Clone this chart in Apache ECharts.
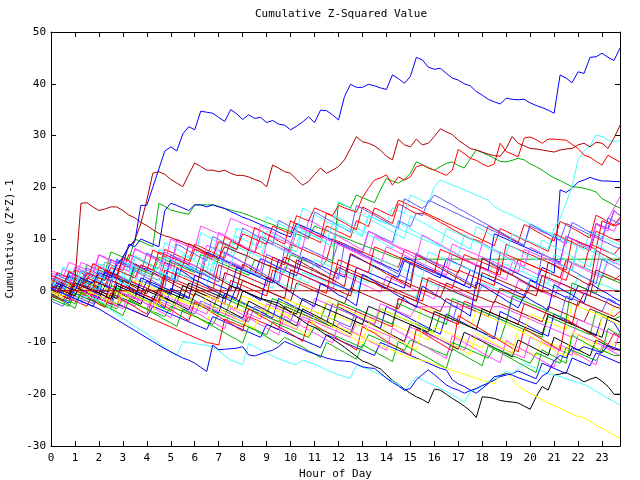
<!DOCTYPE html>
<html><head><meta charset="utf-8">
<script src="https://cdn.jsdelivr.net/npm/echarts@6/dist/echarts.min.js"></script>
<style>html,body{margin:0;padding:0;background:#fff}#c{width:640px;height:480px}</style>
</head><body><div id="c"></div>
<script>
const hours = Array.from({length:96},(_,i)=>i/4);
const xTickLabels = ['0','1','2','3','4','5','6','7','8','9','10','11','12','13','14','15','16','17','18','19','20','21','22','23'];
const yTickLabels = ['-30','-20','-10','0','10','20','30','40','50'];

const C_RED='#ff0000', C_DRED='#b00000', C_GRN='#00b000', C_BLU='#0000ff', C_SLB='#5a5aff', C_MAG='#ff44ff', C_CYN='#44ffff', C_YEL='#ffff00', C_BLK='#000000';

const topBlue = [0,1.5,1,0.5,0,2.5,2,1.5, 3.5,3,2.5,5,6.5,8.5,9.5,16.5, 16.5,20,23.5,27,27.8,27,30.3,31.7, 31.1,34.7,34.5,34.3,33.5,32.7,35,34.2, 33.1,34,33.3,33.5,32.5,32.9,32.2,32, 31.1,31.8,32.6,33.6,32.5,34.9,34.8,34, 33,37.5,39.9,39.3,39.3,39.9,39.6,39.2, 38.9,41.7,41,40.1,41.4,45.1,44.6,43.2, 42.8,43,42,41.1,40.7,40,39.6,38.5, 37.8,37,36.5,36.1,37.2,37,36.9,37, 36.3,35.8,35.4,34.9,34.3,41.7,41.1,40.2, 42.3,42,45.1,45.2,45.9,45.1,44.5,46.9];
const darkRedHigh = [1,0.5,0,-0.5,1.5,1,0.5,2, 1.5,1,3.5,3,6.5,8.5,9.8,13, 17.5,22.7,23,22.5,21.5,20.8,20.1,22.5, 24.7,24,23.3,23.3,23,23.3,22.7,22.3, 22.3,22,21.5,21.1,20.1,24.3,23.7,23, 22.7,21.5,20.4,21.1,22.5,23.7,22.7,23.3, 24,25.3,27.5,29.8,28.8,28.5,28,27.2, 26,25.3,29.3,28.2,27.8,29.3,28.2,28.5, 29.8,31.3,30.7,30.2,29.1,28.3,27.5,27.2, 26.8,26.4,26.1,26,27.5,29.8,28.5,28, 27.5,27.4,27.2,27,26.8,27.2,27.4,27.5, 28.2,28.5,27.8,28.7,28.5,27.5,29.5,32];
const darkRedEarly = [0.5,1,0,0,2,16.9,17,16.2, 15.5,15.8,16.2,16.2,15.5,14.6,14.1,13.2, 12.6,11.8,11.1,10.6,10.3,9.8,9.4,9, 8.5,8,7.3,6.8,6.2,8.5,8,7.5, 7.1,6.6,6,5.5,5,4.6,4.1,6.5, 6,5.3,4.8,4.3,3.8,3.2,2.7,2.2, 4.5,4,3.4,3,2.4,1.9,1.5,0.8, 0.3,2.8,2.2,1.8,1.2,0.7,0.2,-0.3, -0.8,-1.3,1.5,1,0.5,0,-0.5,-1, -1.4,-1.9,-2.3,0.5,0,-0.5,-1,-1.4, 1,0.5,0,-0.4,-1,-1.5,-2,-2.4, -2.9,-0.5,-1,-1.4,-1.9,-2.4,-3,-3.4];
const redHigh = [3,2.5,2,1.5,1,0.5,3.5,3, 2.5,2,4.5,4,3.5,3,2.5,5, 4.5,4,7.5,7,6.5,6,5.5,5, 8,7.5,7,6.5,9.5,9,8.5,8, 11,10.5,10,9.5,9,12.5,12,11.5, 11,14.5,14,13.5,16,15.5,15,14.5, 16.5,16,15.6,15.2,18,19.8,21.4,21.8, 22.4,20.4,22,21.4,22,24,24.3,23.8, 23.3,22.8,22.3,23.3,27.3,26.5,25.6,25.2, 24.5,24,24.5,28.5,26.9,26.4,25.9,29.5, 29.7,29.2,28.5,29.3,29.3,29.2,29.1,28.3, 27.5,26.2,25.8,25,24.3,26.2,25.5,24.9];
const cyanLate = [1,0.5,0,2.5,2,1.5,1,0.5, 0,3,2.5,2,1.5,1,4,3.5, 3,2.5,2,6.5,6,5.5,5,4.5, 4,3.5,7,6.5,6,5.5,5,8.5, 8,7.5,7,6.5,10,9.5,9,8.5, 8,7.5,11.5,11,10.5,10,9.5,13, 12.5,12,11.5,11,10.5,14.5,14,13.5, 13,12.5,12,11.5,11,10.5,10,9.5, 9,8.5,12,11.5,11,10.5,10,9.5, 9,8.5,8,7.5,7,11,10.5,10, 9.5,9,8.5,8,12,14,17,20.1, 25.3,27,28,30.1,29.8,29.1,28.8,29];
const blackLow = [0.5,0,-0.5,-1,1.5,1,0.5,0, -0.5,-1,-1.5,1,0.5,0,-0.5,-1, -1.5,-2,0.5,0,-0.5,-1,-1.5,1.5, 1,0.5,0,-0.5,-1,-1.5,1,0.5, 0,-0.5,-1,-1.5,-1.8,-2.1,-2.4,-3.2, -4.2,-5,-5.8,-6.6,-7.1,-7.8,-8.6,-9.3, -10.1,-10.9,-11.8,-12.7,-13.6,-14,-14.6,-15.1, -16.2,-17.3,-18.1,-19,-19.8,-20.5,-21,-21.7, -19,-19.2,-20,-20.8,-21.5,-22.3,-23.2,-24.5, -20.5,-20.6,-20.8,-21.2,-21.4,-21.5,-21.7,-22.3, -22.9,-20.5,-18.5,-19.2,-16.3,-16.1,-15.8,-16.4, -16.9,-17.6,-17.1,-16.7,-17.5,-18.5,-20,-20];
const yellowLow = [0,-0.5,-1,1.5,1,0.5,0,-0.5, -1,-1.5,-2,-2.5,0,-0.5,-1,-1.5, -2,-2.5,-3,-0.5,-1,-1.5,-2,-2.5, -3,-3.5,-1,-1.5,-2,-2.5,-3,-3.5, -4,-1.5,-2,-2.5,-3,-3.5,-4,-4.5, -5,-2.5,-3,-3.5,-4,-4.5,-5,-5.5, -7,-7.5,-8,-8.5,-9,-9.5,-10,-10.5, -11,-11.5,-12,-12.5,-13,-13.2,-13.5,-13.7, -14.2,-14.6,-15,-15.4,-15.8,-16.1,-16.5,-16.9, -17.3,-17.6,-18,-16,-16,-17,-18.5,-19.2, -19.8,-20.4,-21.1,-21.7,-22.2,-22.7,-23.3,-23.8, -24.3,-24.5,-25.2,-26,-26.6,-27.2,-27.9,-28.5];
const cyanLow = [0.5,0,-0.5,-1,-1.5,-2,-1,-1.5, -2,-2.5,-3.7,-4.5,-5.3,-6.1,-6.9,-7.6, -8.3,-9.2,-10.1,-11,-11.8,-12.5,-9.8,-10, -10.2,-10.4,-10.6,-10.8,-11.6,-12.5,-13.4,-13.8, -14.3,-10.2,-10.8,-11.4,-12,-12.6,-13.1,-13.6, -14,-14.3,-13.4,-13.8,-14.2,-14.7,-15.3,-15.8, -16.2,-16.6,-16.9,-14.3,-14.8,-15.2,-15.7,-16.2, -16.8,-17.4,-18.1,-19.2,-18,-16.6,-17.2,-17.8, -18.3,-18.9,-19.5,-20.1,-20.8,-21.6,-19.5,-19, -18.5,-17.6,-17,-16.3,-15.6,-16,-15.2,-14, -14.5,-15,-15.5,-16,-16.3,-16.6,-17,-17.4, -17.7,-18.1,-18.7,-19.4,-20.1,-20.8,-21.4,-22.1];
const blueLow = [0.5,0,-0.5,-1,-1.5,-2,-2.5,-3, -3.5,-4.2,-4.9,-5.6,-6.3,-7,-7.7,-8.4, -9.1,-9.8,-10.5,-11.2,-11.8,-12.4,-13,-13.4, -14,-14.8,-15.6,-10.5,-11.4,-11.3,-11.2,-11.1, -10.8,-12.4,-12.6,-12.2,-11.8,-11.5,-10.8,-9.8, -10.3,-10.8,-11.3,-11.8,-12.2,-12.6,-13,-13.3, -13.5,-13.6,-13.7,-14.2,-14.7,-14.9,-15,-15.9, -16.9,-17.7,-18.4,-19.2,-18.9,-17.2,-16.2,-15.3, -16.2,-17.2,-18.2,-18.8,-19.2,-19.8,-19.3,-18.9, -18.3,-17.9,-16.6,-16.4,-16,-16.3,-16.8,-17.2, -17.6,-18,-16.5,-15.8,-13.5,-12.5,-13,-11, -11.5,-10.8,-11.2,-11.6,-12,-10.5,-11,-11.4];

const b1 = [2.0,1.4,0.8,3.5,3.0,2.4,1.8,1.3, 0.7,4.0,3.4,2.9,2.3,1.8,5.2,4.6, 4.1,3.5,2.9,2.4,6.0,5.4,4.9,4.3, 3.8,3.2,7.5,7.0,6.4,5.8,5.3,4.7, 4.2,3.6,3.1,6.2,5.7,5.1,4.5,4.0, 3.4,2.9,6.5,6.0,5.4,4.8,4.3,3.7, 3.2,2.6,7.0,6.4,5.9,5.3,4.8,4.2, 3.7,3.1,2.6,5.8,5.2,4.7,4.1,3.6, 3.0,2.5,6.2,5.7,5.1,4.6,4.0,3.5, 2.9,2.4,1.8,4.9,4.4,3.8,3.3,2.7, 2.2,1.6,4.5,4.0,3.4,19.5,19.0,19.8, 21.0,21.4,21.9,21.5,21.2,21.2,21.1,21.1];
const b2 = [1.5,1.0,4.2,3.6,3.1,2.5,2.0,5.3, 4.8,4.2,3.7,3.1,2.6,2.0,1.5,5.0, 4.4,3.9,3.3,2.8,2.2,6.5,6.0,5.4, 4.9,4.3,3.8,3.2,2.7,2.1,5.7,5.1, 4.6,4.0,3.5,2.9,2.4,1.8,1.3,4.6, 4.1,3.5,3.0,2.4,1.9,1.3,0.8,0.2, 3.5,3.0,2.4,1.9,1.3,0.8,0.2,-0.3, 2.8,2.3,1.7,1.2,0.6,0.1,-0.5,-1.0, -1.6,1.5,1.0,0.4,-0.1,-0.7,-1.2,-1.8, 1.2,0.7,0.1,-0.4,-1.0,-1.5,2.0,1.5, 0.9,0.4,-0.2,-0.7,-1.3,1.5,1.0,0.4, -0.1,-0.7,2.0,4.0,9.2,14.0,16.0,18.2];
const b3 = [2.5,2.0,1.4,0.9,4.0,3.5,2.9,2.4, 1.8,5.5,5.0,4.4,3.9,7.0,6.5,5.9, 5.4,4.8,4.3,8.0,7.5,6.9,6.4,5.8, 9.0,8.5,7.9,7.4,6.8,6.3,9.5,9.0, 8.4,7.9,7.3,10.5,10.0,9.4,8.9,8.3, 7.8,11.5,11.0,10.4,9.9,9.3,12.5,12.0, 11.4,10.9,10.3,13.5,13.0,12.4,16.0,15.5, 14.9,14.4,17.5,17.0,16.4,15.9,15.3,14.8, 14.2,13.7,13.1,12.6,12.0,11.5,10.9,10.4, 9.8,9.3,8.7,12.0,11.5,10.9,10.4,9.8, 9.3,8.7,8.2,7.6,11.0,10.5,9.9,9.4, 8.8,8.3,7.7,11.5,11.0,10.4,9.9,9.5];
const b4 = [1.0,0.5,0.0,3.0,2.5,2.0,1.4,0.9, 0.3,-0.2,3.5,3.0,2.4,1.9,1.3,0.8, 4.5,4.0,3.4,2.9,2.3,1.8,5.0,4.5, 3.9,3.4,2.8,2.3,6.5,6.0,5.4,4.9, 4.3,3.8,3.2,2.7,7.0,6.5,5.9,5.4, 4.8,4.3,8.5,8.0,7.4,6.9,6.3,5.8, 9.5,9.0,8.4,7.9,7.3,11.5,11.0,10.4, 9.9,9.3,13.5,13.0,12.4,15.0,14.5,17.5, 17.0,16.4,15.9,15.3,14.8,14.2,13.7,13.1, 12.6,12.0,11.5,10.9,10.4,9.8,9.3,8.7, 12.5,12.0,11.4,10.9,10.3,9.8,13.0,12.5, 11.9,11.4,10.8,10.3,9.7,9.2,8.6,8.1];
const b5 = [0.5,3.5,3.0,2.4,1.9,1.3,0.8,0.2, 4.0,3.5,2.9,2.4,1.8,5.5,5.0,4.4, 3.9,3.3,8.0,7.5,6.9,6.4,5.8,5.3, 4.7,4.2,3.6,8.5,8.0,7.4,6.9,10.5, 10.0,9.4,8.9,8.3,11.5,11.0,10.4,9.9, 9.3,8.8,12.5,12.0,11.4,10.9,10.3,9.8, 13.0,12.5,11.9,11.4,10.8,14.5,14.0,13.4, 12.9,16.0,15.5,14.9,18.5,18.0,17.4,16.9, 20.1,21.4,20.9,20.4,20.0,19.5,19.0,18.5, 18.0,17.5,16.3,15.6,15.1,14.6,14.0,13.5, 12.9,12.4,11.8,11.3,10.7,10.2,9.6,9.1, 8.5,8.0,11.5,11.0,10.4,9.9,9.3,8.8];
const b6 = [1.0,0.5,0.0,-0.5,2.5,2.0,1.5,1.0, 0.5,3.5,3.0,2.5,2.0,1.5,4.5,4.0, 3.5,3.0,6.5,6.0,5.5,5.0,4.5,4.0, 3.5,7.0,6.5,6.0,5.5,5.0,4.5,4.0, 3.5,3.0,6.0,5.5,5.0,4.5,4.0,3.5, 7.0,6.5,6.0,5.5,5.0,4.5,5.9,5.4, 17.0,16.5,16.0,18.5,18.0,17.5,17.0,19.5, 21.7,21.2,20.8,21.5,22.7,24.9,24.4,23.7, 23.3,24.0,24.6,24.9,24.2,23.7,25.5,27.2, 26.7,26.2,25.6,25.0,24.9,25.2,25.6,25.3, 24.5,24.0,23.3,22.5,21.8,21.3,20.7,20.1, 20.0,19.8,19.5,19.1,17.8,17.2,16.5,16.0];
const b7 = [0.5,0,-0.5,2.5,2,1.5,5,4.5, 4,3.5,7.5,7,6.5,6,10,9.5, 9,8.5,16.9,16.3,15.6,15.3,15,14.8, 16.6,16.6,16.6,16.6,16.3,15.9,15.6,15.3, 15,14.6,14.1,13.7,13.2,12.8,12.3,11.9, 11.4,11,10.5,10.1,12.5,12,11.6,11.1, 10.7,10.2,9.8,9.3,8.9,8.4,8,7.5, 7.1,6.6,6.2,6.1,6.1,6.1,6.1,6.1, 6.1,6.1,6.1,6.1,6.1,6.1,6.1,6.1, 6.1,6.1,6.1,6.1,6.1,6.1,6.1,6.1, 6.1,6.1,6.1,6.1,6.1,6.1,6.1,6.1, 6.1,6.1,6.1,6.1,6.1,6.1,6.1,6.1];
const b8 = [0.0,-0.5,2.0,1.5,1.0,0.5,3.5,3.0, 2.5,2.0,6.0,5.5,5.0,9.0,8.5,10.0, 9.5,9.0,8.5,15.5,16.9,16.5,16.0,15.5, 16.6,16.6,16.2,16.6,16.2,15.9,15.3,14.8, 14.2,13.8,13.3,12.8,12.3,11.9,11.3,10.8, 10.4,13.0,12.5,12.0,11.4,10.9,10.3,9.8, 9.2,8.7,8.1,7.6,7.0,6.5,5.9,5.4, 4.8,4.3,3.7,6.5,6.0,5.4,4.9,4.3, 3.8,3.2,2.7,2.1,1.6,1.0,4.0,3.5, 2.9,2.4,1.8,1.3,0.7,0.2,-0.4,-0.9, 2.0,1.5,0.9,0.4,-0.2,-0.7,-1.3,-1.8, 1.0,0.5,-0.1,-0.6,-1.2,-1.7,-2.3,-2.8];
const b9 = [0.0,-0.5,-1.0,-1.5,1.5,1.0,0.5,0.0, 3.0,2.5,2.0,1.5,1.0,0.5,4.0,3.5, 3.0,2.5,2.0,5.5,5.0,4.5,4.0,3.5, 3.0,2.5,7.0,6.5,6.0,5.5,5.0,4.5, 4.0,8.0,7.5,7.0,6.5,6.0,5.5,5.0, 9.0,8.5,8.0,7.5,7.0,6.5,6.0,10.0, 9.5,9.0,8.5,8.0,7.5,7.0,6.5,6.0, 5.5,5.0,4.5,8.0,7.5,7.0,6.5,6.0, 5.5,5.0,4.5,4.0,3.5,7.0,6.5,6.0, 5.5,5.0,4.5,4.0,3.5,3.0,6.0,5.5, 5.0,4.5,4.0,3.5,3.0,2.5,2.0,5.5, 5.0,4.5,4.0,3.5,3.0,2.5,2.0,3.0];
const b10 = [2.0,1.5,1.0,0.5,0.0,-0.5,2.5,2.0, 1.5,1.0,0.5,0.0,-0.5,-1.0,-1.5,2.0, 1.5,1.0,0.5,0.0,-0.5,3.5,3.0,2.5, 2.0,1.5,1.0,0.5,0.0,-0.5,-1.0,-1.5, 2.0,1.5,1.0,0.5,0.0,-0.5,-1.0,-1.5, -2.0,1.5,1.0,0.5,0.0,-0.5,-1.0,-1.5, -2.0,-2.5,0.5,0.0,-0.5,-1.0,-1.5,-2.0, -2.5,-3.0,-3.5,-1.0,-1.5,-2.0,-2.5,-3.0, -3.5,-4.0,-1.5,-2.0,-2.5,-3.0,-3.5,-4.0, -4.5,-5.0,-2.0,-2.5,-3.0,-3.5,-4.0,-4.5, -5.0,-5.5,-6.0,-3.0,-3.5,-4.0,-4.5,-5.0, -5.5,-6.0,-3.5,-4.0,-4.5,-5.0,-5.5,-6.0];
const b11 = [-1.0,-1.5,1.5,1.0,0.5,0.0,-0.5,-1.0, -1.5,-2.0,1.0,0.5,0.0,-0.5,-1.0,-1.5, -2.0,-2.5,-3.0,0.5,0.0,-0.5,-1.0,-1.5, -2.0,-2.5,-3.0,-3.5,-0.5,-1.0,-1.5,-2.0, -2.5,-3.0,-3.5,-4.0,-4.5,-1.5,-2.0,-2.5, -3.0,-3.5,-4.0,-4.5,-5.0,-5.5,-2.5,-3.0, -3.5,-4.0,-4.5,-5.0,-5.5,-6.0,-6.5,-3.5, -4.0,-4.5,-5.0,-5.5,-6.0,-6.5,-7.0,-7.5, -8.0,-4.5,-5.0,-5.5,-6.0,-6.5,-7.0,-7.5, -8.0,-8.5,-9.0,-9.5,-6.0,-6.5,-7.0,-7.5, -8.0,-8.5,-9.0,-5.0,-5.5,-6.0,-6.5,-7.0, -7.5,-8.0,-8.5,-4.0,-4.5,-5.0,-5.5,-5.0];
const b12 = [4.0,3.4,2.9,2.3,1.8,5.5,5.0,4.4, 3.9,3.3,2.8,2.2,6.0,5.5,4.9,4.4, 3.8,3.3,2.7,7.5,7.0,6.4,5.9,5.3, 4.8,4.2,8.8,8.3,7.7,7.2,6.6,6.1, 5.5,5.0,4.4,3.9,9.5,9.0,8.4,7.9, 7.3,6.8,6.2,5.7,5.1,4.6,10.0,9.5, 8.9,8.4,7.8,7.3,6.7,6.2,5.6,5.1, 8.5,8.0,7.4,6.9,6.3,5.8,5.2,4.7, 4.1,3.6,3.0,7.0,6.5,5.9,5.4,4.8, 4.3,3.7,3.2,2.6,2.1,5.5,5.0,4.4, 3.9,3.3,2.8,2.2,1.7,1.1,5.8,5.3, 4.7,4.2,3.6,3.1,2.5,6.0,5.5,5.0];
const b13 = [3.0,2.6,2.1,1.7,4.5,4.1,3.6,3.2, 2.7,2.3,1.8,6.0,5.6,5.1,4.7,4.2, 3.8,3.3,2.9,2.4,2.0,5.5,5.1,4.6, 4.2,3.7,3.3,2.8,2.4,1.9,1.5,1.0, 4.2,3.8,3.3,2.9,2.4,2.0,1.5,1.1, 0.6,0.2,3.5,3.1,2.6,2.2,1.7,1.3, 0.8,0.4,-0.1,-0.5,2.8,2.4,1.9,1.5, 1.0,0.6,0.1,-0.3,-0.8,-1.2,2.0,1.6, 1.1,0.7,0.2,-0.2,-0.7,-1.1,-1.6,-2.0, 1.5,1.1,0.6,0.2,-0.3,-0.7,-1.2,-1.6, 2.5,2.1,1.6,1.2,0.7,0.3,-0.2,-0.6, 3.0,2.6,2.1,1.7,1.2,0.8,0.3,-0.1];
const b14 = [-0.5,-1.2,-1.8,-2.4,1.0,0.4,-0.2,-0.8, -1.4,-2.0,-2.6,1.5,0.9,0.3,-0.3,-0.9, -1.5,-2.1,-2.7,-3.3,0.5,-0.1,-0.7,-1.3, -1.9,-2.5,-3.1,-3.7,-4.3,-0.5,-1.1,-1.7, -2.3,-2.9,-3.5,-4.1,-4.7,-5.3,-1.5,-2.1, -2.7,-3.3,-3.9,-4.5,-5.1,-5.7,-6.3,-2.5, -3.1,-3.7,-4.3,-4.9,-5.5,-6.1,-6.7,-7.3, -3.0,-3.6,-4.2,-4.8,-5.4,-6.0,-6.6,-7.2, -7.8,-8.4,-4.5,-5.1,-5.7,-6.3,-6.9,-7.5, -8.1,-8.7,-9.3,-4.0,-4.6,-5.2,-5.8,-6.4, -7.0,-7.6,-8.2,-8.8,-4.5,-5.1,-5.7,-6.3, -6.9,-7.5,-8.1,-8.7,-5.0,-5.6,-6.2,-8.0];
const b15 = [1.0,0.5,0.0,-0.5,-1.0,-1.5,-2.0,0.5, 0.0,-0.5,-1.0,-1.5,-2.0,-2.5,0.0,-0.5, -1.0,-1.5,-2.0,-2.5,-3.0,-3.5,-1.0,-1.5, -2.0,-2.5,-3.0,-3.5,-4.0,-4.5,-5.0,-2.5, -3.0,-3.5,-4.0,-4.5,-5.0,-5.5,-6.0,-6.5, -4.0,-4.5,-5.0,-5.5,-6.0,-6.5,-7.0,-4.5, -5.0,-5.5,-6.0,-6.5,-7.0,-7.5,-8.0,-8.5, -6.0,-6.5,-7.0,-7.5,-8.0,-8.5,-9.0,-9.5, -7.0,-7.5,-8.0,-8.5,-9.0,-9.5,-10.0,-10.5, -11.0,-8.5,-9.0,-9.5,-10.0,-10.5,-11.0,-11.5, -12.0,-12.5,-9.5,-10.0,-10.5,-11.0,-11.5,-12.0, -12.5,-10.0,-10.5,-11.0,-11.5,-12.0,-10.0,-10.5];
const b16 = [0.0,-0.6,2.0,1.4,0.8,0.2,-0.4,-1.0, -1.6,1.0,0.4,-0.2,-0.8,-1.4,-2.0,-2.6, 0.5,-0.1,-0.7,-1.3,-1.9,-2.5,-3.1,-3.7, -0.5,-1.1,-1.7,-2.3,-2.9,-3.5,-4.1,-4.7, -5.3,-2.0,-2.6,-3.2,-3.8,-4.4,-5.0,-5.6, -6.2,-6.8,-3.5,-4.1,-4.7,-5.3,-5.9,-6.5, -7.1,-7.7,-8.3,-5.0,-5.6,-6.2,-6.8,-7.4, -8.0,-8.6,-9.2,-9.8,-6.5,-7.1,-7.7,-8.3, -8.9,-9.5,-10.1,-10.7,-11.3,-8.0,-8.6,-9.2, -9.8,-10.4,-11.0,-11.6,-12.2,-12.8,-9.5,-10.1, -10.7,-11.3,-11.9,-12.5,-9.0,-9.6,-10.2,-10.8, -11.4,-12.0,-12.6,-9.5,-10.1,-10.7,-11.3,-11.5];
const b17 = [-1.0,-1.5,-2.0,1.0,0.5,0.0,-0.5,-1.0, -1.5,-2.0,-2.5,-3.0,1.0,0.5,0.0,-0.5, -1.0,-1.5,-2.0,2.5,2.0,1.5,1.0,0.5, 0.0,-0.5,-1.0,-1.5,-2.0,-2.5,2.0,1.5, 1.0,0.5,0.0,-0.5,-1.0,4.0,3.5,3.0, 2.5,2.0,1.5,1.0,0.5,0.0,-0.5,5.5, 5.0,4.5,4.0,3.5,3.0,2.5,2.0,1.5, 1.0,0.5,0.0,-0.5,-1.0,-1.5,-2.0,2.5, 2.0,1.5,1.0,0.5,4.0,3.5,3.0,2.5, 2.0,1.5,1.0,7.5,7.0,6.5,6.0,5.5, 5.0,4.5,4.0,3.5,3.0,2.5,6.0,5.5, 5.0,4.5,9.0,8.5,8.0,7.5,7.0,8.5];
const b18 = [-2.0,-2.5,-3.0,-0.5,-1.0,-1.5,-2.0,-2.5, 0.5,0.0,-0.5,-1.0,-1.5,-2.0,-2.5,-3.0, -3.5,-1.0,-1.5,-2.0,-2.5,-3.0,-3.5,-4.0, -4.5,-2.0,-2.5,-3.0,-3.5,-4.0,-4.5,-5.0, -5.5,-6.0,-3.0,-3.5,-4.0,-4.5,-5.0,-5.5, -6.0,-2.5,-3.0,-3.5,-4.0,-4.5,-5.0,-5.5, -6.0,-6.5,-7.0,-3.5,-4.0,-4.5,-5.0,-5.5, -6.0,-6.5,-1.5,-2.0,-2.5,-3.0,-3.5,-4.0, -4.5,-5.0,-5.5,-6.0,-2.0,-2.5,-3.0,-3.5, -4.0,-4.5,-5.0,-5.5,-6.0,-1.5,-2.0,-2.5, -3.0,-3.5,-4.0,-4.5,-5.0,-5.5,-1.0,-1.5, -2.0,-2.5,-3.0,-3.5,-4.0,-1.5,-2.0,-3.0];
const b19 = [0.5,0.0,-0.5,-1.0,-1.5,-2.0,1.0,0.5, 0.0,-0.5,-1.0,-1.5,-2.0,-2.5,-3.0,-0.5, -1.0,-1.5,-2.0,-2.5,-3.0,-3.5,-4.0,-4.5, -2.0,-2.5,-3.0,-3.5,-4.0,-4.5,-5.0,-5.5, -6.0,-3.5,-4.0,-4.5,-5.0,-5.5,-6.0,-6.5, -7.0,-7.5,-5.0,-5.5,-6.0,-6.5,-7.0,-7.5, -8.0,-8.5,-9.0,-6.0,-6.5,-7.0,-7.5,-8.0, -8.5,-9.0,-9.5,-10.0,-7.0,-7.5,-8.0,-8.5, -9.0,-9.5,-10.0,-10.5,-11.0,-11.5,-8.5,-9.0, -9.5,-10.0,-10.5,-11.0,-11.5,-12.0,-12.5,-13.0, -9.0,-9.5,-10.0,-10.5,-11.0,-11.5,-12.0,-12.5, -8.5,-9.0,-9.5,-10.0,-10.5,-11.0,-11.5,-8.0];
const b20 = [1.5,1.0,0.5,0.0,-0.5,2.5,2.0,1.5, 1.0,0.5,0.0,-0.5,3.5,3.0,2.5,2.0, 1.5,1.0,0.5,4.5,4.0,3.5,3.0,2.5, 2.0,1.5,1.0,5.5,5.0,4.5,4.0,3.5, 3.0,2.5,2.0,1.5,1.0,0.5,4.0,3.5, 3.0,2.5,2.0,1.5,6.0,5.5,5.0,4.5, 4.0,3.5,3.0,2.5,2.0,1.5,6.5,6.0, 5.5,5.0,4.5,4.0,3.5,3.0,2.5,7.5, 7.0,6.5,6.0,5.5,5.0,4.5,4.0,3.5, 3.0,2.5,6.0,5.5,5.0,4.5,4.0,3.5, 3.0,2.5,2.0,1.5,7.0,6.5,6.0,5.5, 5.0,4.5,4.0,3.5,3.0,6.5,6.0,5.5];
const b21 = [-0.5,-1.0,-1.5,-2.0,-2.5,-0.5,-1.0,-1.5, -2.0,-2.5,-3.0,-3.5,-1.5,-2.0,-2.5,-3.0, -3.5,-4.0,-4.5,-5.0,-3.0,-3.5,-4.0,-4.5, -5.0,-5.5,-6.0,-6.5,-4.5,-5.0,-5.5,-6.0, -6.5,-7.0,-7.5,-8.0,-8.5,-6.0,-6.5,-7.0, -7.5,-8.0,-8.5,-9.0,-7.0,-7.5,-8.0,-8.5, -9.0,-9.5,-10.0,-10.5,-11.0,-8.5,-9.0,-9.5, -10.0,-10.5,-11.0,-11.5,-9.5,-10.0,-10.5,-11.0, -11.5,-12.0,-12.5,-10.0,-10.5,-11.0,-11.5,-12.0, -12.5,-13.0,-11.0,-11.5,-12.0,-12.5,-13.0,-13.5, -14.0,-12.0,-12.5,-13.0,-13.5,-14.0,-11.0,-11.5, -12.0,-12.5,-13.0,-13.5,-11.5,-12.0,-12.5,-12.5];
const b22 = [0.0,-0.5,-1.0,-1.5,-2.0,-2.5,-3.0,-0.5, -1.0,-1.5,-2.0,-2.5,-3.0,-3.5,-4.0,-4.5, -5.0,-5.5,-6.0,-6.5,-7.0,-7.5,-8.0,-8.5, -9.0,-9.5,-10.0,-10.2,-10.5,-5.5,-6.0,-6.5, -7.0,-5.0,-5.5,-6.0,-6.5,-7.0,-7.5,-3.0, -3.5,-4.0,-4.5,-5.0,-5.5,-6.0,-6.5,-7.0, -2.5,-3.0,-3.5,-4.0,-4.5,-5.0,-5.5,-6.0, -6.5,-7.0,-1.5,-2.0,-2.5,-3.0,-3.5,-4.0, -4.5,-5.0,-5.5,-6.0,-6.5,-2.0,-2.5,-3.0, -3.5,-4.0,-4.5,-5.0,-5.5,-6.0,-6.5,-2.5, -3.0,-3.5,-4.0,-4.5,-5.0,-5.5,-6.0,-6.5, -2.0,-2.5,-3.0,-3.5,-4.0,-4.5,-5.0,-4.0];
const b23 = [-1.5,1.0,0.5,0.0,-0.5,-1.0,-1.5,-2.0, 1.5,1.0,0.5,0.0,-0.5,-1.0,-1.5,2.5, 2.0,1.5,1.0,0.5,0.0,-0.5,-1.0,-1.5, 3.0,2.5,2.0,1.5,1.0,0.5,0.0,4.5, 4.0,3.5,3.0,2.5,2.0,1.5,6.0,5.5, 5.0,4.5,4.0,3.5,3.0,2.5,2.0,1.5, 1.0,0.5,0.0,4.5,4.0,3.5,3.0,2.5, 2.0,1.5,1.0,0.5,5.5,5.0,4.5,4.0, 3.5,3.0,2.5,2.0,1.5,1.0,0.5,5.0, 4.5,4.0,11.0,10.5,10.0,9.5,9.0,8.5, 8.0,7.5,7.0,6.5,6.0,5.5,10.5,10.0, 9.5,9.0,8.5,13.0,12.5,12.0,15.5,14.5];
const b24 = [2.0,1.5,1.0,0.5,0.0,-0.5,-1.0,1.5, 1.0,0.5,0.0,-0.5,-1.0,-1.5,2.0,1.5, 1.0,0.5,0.0,-0.5,-1.0,-1.5,-2.0,-2.5, 0.0,-0.5,-1.0,-1.5,-2.0,-2.5,-3.0,-3.5, -1.0,-1.5,-2.0,-2.5,-3.0,-3.5,-4.0,-1.5, -2.0,-2.5,-3.0,-3.5,-4.0,-4.5,-2.0,-2.5, -3.0,-3.5,-4.0,-4.5,-5.0,-5.5,-6.0,-3.5, -4.0,-4.5,-5.0,-5.5,-6.0,-6.5,-3.0,-3.5, -4.0,-4.5,-5.0,-5.5,-6.0,-6.5,-7.0,-4.0, -4.5,-5.0,-5.5,-6.0,-6.5,-7.0,-7.5,-8.0, -4.5,-5.0,-5.5,-6.0,-6.5,-7.0,-7.5,-2.5, -3.0,-3.5,-4.0,-4.5,-5.0,-5.5,-3.0,-3.5];
const b25 = [-1.0,-1.5,1.5,1.0,0.5,0.0,-0.5,-1.0, -1.5,-2.0,2.0,1.5,1.0,0.5,0.0,-0.5, -1.0,-1.5,-2.0,3.0,2.5,2.0,1.5,1.0, 0.5,0.0,-0.5,-1.0,-1.5,3.5,3.0,2.5, 2.0,1.5,1.0,0.5,0.0,-0.5,-1.0,-1.5, 4.0,3.5,3.0,2.5,2.0,1.5,1.0,0.5, 0.0,-0.5,-1.0,3.0,2.5,2.0,1.5,1.0, 0.5,0.0,-0.5,-1.0,-1.5,-2.0,2.5,2.0, 1.5,1.0,0.5,0.0,-0.5,-1.0,-1.5,-2.0, 3.5,3.0,2.5,2.0,1.5,1.0,0.5,0.0, -0.5,-1.0,3.0,2.5,2.0,1.5,1.0,0.5, 0.0,-0.5,-1.0,4.0,3.5,3.0,2.5,2.0];
const b26 = [3.5,3.0,2.5,5.5,5.0,4.5,4.0,3.5, 7.0,6.5,6.0,5.5,5.0,4.5,8.0,7.5, 7.0,6.5,6.0,5.5,10.0,9.5,9.0,8.5, 8.0,12.5,12.0,11.5,11.0,10.5,14.0,13.5, 13.0,12.5,12.0,11.5,11.0,10.5,10.0,9.5, 9.0,12.5,12.0,11.5,11.0,10.5,10.0,9.5, 9.0,8.5,8.0,7.5,7.0,6.5,10.5,10.0, 9.5,9.0,8.5,8.0,7.5,7.0,6.5,6.0, 5.5,5.0,4.5,9.0,8.5,8.0,7.5,7.0, 6.5,6.0,5.5,5.0,4.5,4.0,3.5,8.0, 7.5,7.0,6.5,6.0,5.5,5.0,4.5,4.0, 9.5,9.0,8.5,13.0,12.5,12.0,11.5,14.0];
const b27 = [-1.5,-2.0,-2.5,-3.0,-0.5,-1.0,-1.5,-2.0, -2.5,-3.0,-3.5,0.5,0.0,-0.5,-1.0,-1.5, -2.0,-2.5,-3.0,-3.5,-4.0,-1.0,-1.5,-2.0, -2.5,-3.0,-3.5,-4.0,-4.5,-5.0,-2.0,-2.5, -3.0,-3.5,-4.0,-4.5,-5.0,-5.5,-6.0,-3.0, -3.5,-4.0,-4.5,-5.0,-5.5,-6.0,-6.5,-7.0, -2.0,-2.5,-3.0,-3.5,-4.0,-4.5,-5.0,-5.5, -6.0,-6.5,-2.5,-3.0,-3.5,-4.0,-4.5,-5.0, -5.5,-6.0,-6.5,-1.5,-2.0,-2.5,-3.0,-3.5, -4.0,-4.5,-5.0,-5.5,-6.0,-1.0,-1.5,-2.0, -2.5,-3.0,-3.5,-4.0,-4.5,-5.0,-5.5,1.5, 1.0,0.5,0.0,-0.5,3.0,2.5,2.0,1.5];
const b28 = [0.5,0.0,-0.5,-1.0,-1.5,-2.0,-2.5,-3.0, -1.0,-1.5,-2.0,-2.5,-3.0,-3.5,-4.0,-4.5, -5.0,-3.0,-3.5,-4.0,-4.5,-5.0,-5.5,-6.0, -6.5,-7.0,-7.5,-5.0,-5.5,-6.0,-6.5,-7.0, -7.5,-8.0,-8.5,-9.0,-6.5,-7.0,-7.5,-8.0, -8.5,-9.0,-9.5,-10.0,-10.5,-11.0,-8.5,-9.0, -9.5,-10.0,-10.5,-11.0,-11.5,-12.0,-12.5,-10.0, -10.5,-11.0,-11.5,-12.0,-12.5,-13.0,-13.5,-14.0, -14.5,-15.0,-15.3,-17.2,-18.0,-18.5,-19.2,-19.8, -18.9,-17.9,-17.3,-16.6,-16.3,-16.0,-15.5,-16.0, -16.5,-17.0,-14.0,-14.5,-15.0,-15.5,-16.0,-13.0, -13.5,-14.0,-14.5,-12.0,-12.5,-13.0,-13.5,-14.0];
const b29 = [1.0,0.5,0.0,-0.5,-1.0,1.5,1.0,0.5, 0.0,-0.5,-1.0,-1.5,2.0,1.5,1.0,0.5, 0.0,-0.5,-1.0,-1.5,-2.0,-2.5,1.0,0.5, 0.0,-0.5,-1.0,-1.5,-2.0,-2.5,-3.0,-3.5, 0.0,-0.5,-1.0,-1.5,-2.0,-2.5,-3.0,-3.5, -4.0,-4.5,-1.5,-2.0,-2.5,-3.0,-3.5,-4.0, -4.5,-5.0,-5.5,-6.0,-6.5,-3.0,-3.5,-4.0, -4.5,-5.0,-5.5,-6.0,-6.5,-7.0,-7.5,-8.0, -4.0,-4.5,-5.0,-5.5,-6.0,-6.5,-7.0,-7.5, -3.5,-4.0,-4.5,-5.0,-5.5,-6.0,-6.5,-7.0, -7.5,-8.0,-8.5,-4.5,-5.0,-5.5,-6.0,-6.5, -7.0,-7.5,-8.0,-8.5,-9.0,-5.0,-5.5,-6.0];
const b30 = [0.5,3.5,3.0,2.5,2.0,1.5,1.0,0.5, 4.5,4.0,3.5,3.0,2.5,2.0,1.5,1.0, 0.5,0.0,-0.5,4.0,3.5,3.0,2.5,2.0, 1.5,1.0,0.5,0.0,5.0,4.5,4.0,3.5, 3.0,2.5,2.0,1.5,1.0,6.5,6.0,5.5, 5.0,4.5,4.0,3.5,3.0,2.5,2.0,1.5, 6.0,5.5,5.0,4.5,4.0,3.5,8.5,8.0, 7.5,7.0,6.5,6.0,5.5,5.0,4.5,4.0, 3.5,8.0,7.5,7.0,6.5,6.0,5.5,5.0, 4.5,4.0,3.5,3.0,9.0,8.5,8.0,7.5, 7.0,6.5,6.0,5.5,5.0,4.5,4.0,10.0, 9.5,9.0,8.5,8.0,13.5,13.0,12.5,13.0];
const b31 = [0.0,-0.5,-1.0,1.0,0.5,0.0,-0.5,-1.0, -1.5,-2.0,0.5,0.0,-0.5,-1.0,-1.5,-2.0, -2.5,-3.0,-0.5,-1.0,-1.5,-2.0,-2.5,-3.0, -3.5,-4.0,-4.5,-1.5,-2.0,-2.5,-3.0,-3.5, -4.0,-4.5,-5.0,-5.5,-2.5,-3.0,-3.5,-4.0, -4.5,-5.0,-5.5,-6.0,-1.5,-2.0,-2.5,-3.0, -3.5,-4.0,-4.5,-5.0,-5.5,-6.0,-6.5,-2.5, -3.0,-3.5,-4.0,-4.5,-5.0,-3.1,-3.1,-3.1, -3.1,-3.1,-3.1,-3.1,-3.1,-3.1,-3.1,-3.1, -3.1,-3.1,-3.1,-3.1,-3.5,-4.0,-4.5,-5.0, -5.5,-6.0,-6.5,-7.0,-7.5,-8.0,-8.5,-9.0, -5.5,-6.0,-6.5,-7.0,-7.5,-8.0,-8.5,-9.0];
const b32 = [1.2,0.4,-0.3,2.8,2.1,1.5,0.6,-0.1, -0.9,3.6,2.9,2.4,1.6,0.8,0.2,-0.6, 1.9,1.1,0.6,-0.2,-0.9,4.3,3.7,2.9, 2.1,1.6,0.9,0.1,-0.5,-1.3,-2.0,0.8, 0.1,-0.6,-1.2,-1.9,2.6,2.0,1.1,0.4, -0.3,-1.0,-1.8,-2.4,-3.1,1.4,0.8,0.0, -0.8,-1.3,-2.1,-2.9,3.2,2.6,1.8,1.1, 0.5,-0.3,-1.0,-1.6,-2.5,-3.2,0.9,0.2, -0.6,-1.3,-2.1,-2.8,-3.4,-4.1,-4.9,1.7, 1.0,0.3,-0.4,-1.1,-1.9,-2.6,-3.3,-1.0, -1.7,-2.4,-3.0,-3.8,1.2,0.5,-0.2,-0.8, -1.6,-2.3,1.5,0.7,0.0,-0.6,-1.4,-2.0];
const b33 = [-0.6,-1.3,-1.9,0.9,0.2,-0.5,-1.1,-1.8, -2.6,-3.2,-0.4,-1.1,-1.8,-2.4,-3.1,-3.9, -4.5,-1.6,-2.3,-3.0,-3.6,-4.4,-5.1,-5.8, -2.2,-2.9,-3.5,-4.3,-5.0,-5.7,-6.3,-7.1, -7.8,-3.5,-4.2,-4.9,-5.5,-6.2,-7.0,-7.6, -8.3,-9.0,-9.8,-5.9,-6.6,-7.3,-8.0,-8.6, -9.4,-10.1,-10.7,-11.5,-6.9,-7.6,-8.2,-9.0, -9.7,-10.4,-11.0,-11.8,-12.5,-7.4,-8.1,-8.8, -9.5,-10.2,-10.9,-11.6,-4.8,-5.5,-6.2,-6.9, -7.6,-8.3,-9.0,-9.7,-10.4,-11.1,-11.8,-7.3, -8.0,-8.7,-9.4,-10.1,-10.8,-11.5,-5.5,-6.2, -6.9,-7.6,-8.3,-9.0,-9.7,-10.4,-8.2,-9.0];
const b34 = [2.5,1.8,1.2,0.5,-0.1,3.9,3.2,2.6, 1.9,1.3,0.6,5.8,5.1,4.5,3.8,3.2, 2.5,1.9,1.2,0.6,6.9,6.2,5.6,4.9, 4.3,3.6,3.0,2.3,1.7,7.5,6.8,6.2, 5.5,4.9,4.2,3.6,2.9,2.3,1.6,8.2, 7.5,6.9,6.2,5.6,4.9,4.3,3.6,3.0, 2.3,9.1,8.4,7.8,7.1,6.5,5.8,5.2, 4.5,3.9,3.2,2.6,1.9,7.3,6.6,6.0, 5.3,4.7,4.0,3.4,2.7,2.1,1.4,0.8, 6.4,5.7,5.1,4.4,3.8,3.1,2.5,1.8, 1.2,0.5,7.2,6.5,5.9,5.2,4.6,3.9, 3.3,2.6,2.0,1.3,6.1,5.4,4.8,4.1];
const b35 = [0.8,0.1,-0.5,-1.2,-1.8,-2.5,0.4,-0.3, -0.9,-1.6,-2.2,-2.9,-3.5,-0.6,-1.3,-1.9, -2.6,-3.2,-3.9,-4.5,-5.2,-2.1,-2.8,-3.4, -4.1,-4.7,-5.4,-6.0,-6.7,-7.3,-3.3,-4.0, -4.6,-5.3,-5.9,-6.6,-7.2,-7.9,-8.5,-4.9, -5.6,-6.2,-6.9,-7.5,-8.2,-8.8,-9.5,-10.1, -6.3,-7.0,-7.6,-8.3,-8.9,-9.6,-10.2,-10.9, -11.5,-7.2,-7.9,-8.5,-9.2,-9.8,-10.5,-11.1, -11.8,-12.4,-13.1,-8.7,-9.4,-10.0,-10.7,-11.3, -12.0,-12.6,-13.3,-13.9,-9.6,-10.3,-10.9,-11.6, -12.2,-12.9,-13.5,-14.2,-14.8,-10.4,-11.1,-11.7, -12.4,-13.0,-13.7,-14.3,-10.6,-11.3,-11.9,-12.5];
const b36 = [1.8,1.2,4.6,4.0,3.3,2.7,2.0,1.4, 5.2,4.6,3.9,3.3,2.6,2.0,6.4,5.8, 5.1,4.5,3.8,3.2,2.5,1.9,7.0,6.4, 5.7,5.1,4.4,3.8,9.5,8.9,8.2,7.6, 6.9,6.3,10.8,10.2,9.5,8.9,8.2,7.6, 6.9,12.4,11.8,11.1,10.5,9.8,9.2,8.5, 14.1,13.5,12.8,12.2,11.5,10.9,10.2,9.6, 8.9,8.3,13.2,12.6,11.9,11.3,10.6,10.0, 9.3,8.7,8.0,7.4,6.7,10.8,10.2,9.5, 8.9,8.2,7.6,6.9,6.3,5.6,5.0,4.3, 8.4,7.8,7.1,6.5,5.8,5.2,4.5,3.9, 9.1,8.5,7.8,7.2,6.5,5.9,5.2,6.0];
const b37 = [-0.3,-0.9,-1.6,1.1,0.4,-0.2,-0.9,-1.5, -2.2,-2.8,0.3,-0.3,-1.0,-1.6,-2.3,-2.9, -3.6,-4.2,-1.1,-1.7,-2.4,-3.0,-3.7,-4.3, -5.0,-5.6,-6.3,-2.8,-3.4,-4.1,-4.7,-5.4, -6.0,-6.7,-7.3,-3.5,-4.1,-4.8,-5.4,-6.1, -6.7,-7.4,-8.0,-8.7,-4.9,-5.6,-6.2,-6.9, -7.5,-8.2,-8.8,-9.5,-10.1,-6.2,-6.9,-7.5, -8.2,-8.8,-9.5,-10.1,-10.8,-11.4,-7.1,-7.8, -8.4,-9.1,-9.7,-10.4,-11.0,-11.7,-12.3,-8.2, -8.9,-9.5,-10.2,-10.8,-11.5,-12.1,-7.5,-8.2, -8.8,-9.5,-10.1,-10.8,-11.4,-12.1,-12.7,-7.9, -8.6,-9.2,-9.9,-10.5,-4.8,-5.5,-6.1,-6.8];
const b38 = [0.3,-0.3,-1.0,-1.6,2.2,1.6,0.9,0.3, -0.4,-1.0,-1.7,2.6,2.0,1.3,0.7,0.0, -0.6,3.5,2.9,2.2,1.6,0.9,0.3,-0.4, -1.0,4.2,3.6,2.9,2.3,1.6,1.0,0.3, 5.1,4.5,3.8,3.2,2.5,1.9,1.2,0.6, -0.1,6.0,5.4,4.7,4.1,3.4,2.8,2.1, 1.5,0.8,7.2,6.6,5.9,5.3,4.6,4.0, 3.3,2.7,2.0,1.4,0.7,6.9,6.3,5.6, 5.0,4.3,3.7,3.0,2.4,1.7,1.1,0.4, 6.2,5.6,4.9,4.3,3.6,3.0,2.3,1.7, 1.0,0.4,-0.3,5.5,4.9,4.2,3.6,2.9, 2.3,1.6,1.0,7.8,7.1,6.5,5.8,6.2];
const b39 = [-0.8,-1.4,-2.1,-2.7,-3.4,-0.2,-0.9,-1.5, -2.2,-2.8,-3.5,-4.1,-4.8,-1.7,-2.3,-3.0, -3.6,-4.3,-4.9,-5.6,-6.2,-6.9,-3.6,-4.2, -4.9,-5.5,-6.2,-6.8,-7.5,-8.1,-8.8,-9.4, -10.1,-7.0,-7.6,-8.3,-8.9,-9.6,-10.2,-9.0, -9.6,-10.3,-10.9,-11.6,-12.2,-12.9,-10.0,-10.6, -11.3,-11.9,-12.6,-13.2,-10.4,-11.1,-11.7,-12.4, -13.0,-13.7,-9.8,-10.4,-11.1,-11.7,-12.4,-13.0, -13.7,-14.3,-15.0,-11.2,-11.9,-12.5,-13.2,-13.8, -14.5,-10.6,-11.3,-11.9,-12.6,-13.2,-13.9,-14.5, -15.2,-15.8,-11.4,-12.1,-12.7,-13.4,-14.0,-8.6, -9.3,-9.9,-10.6,-11.2,-11.9,-7.3,-8.0,-8.6];
const b40 = [2.2,1.6,0.9,3.8,3.1,2.5,1.8,5.2, 4.6,3.9,3.3,2.6,6.4,5.8,5.1,4.5, 3.8,7.9,7.3,6.6,6.0,5.3,4.7,9.1, 8.5,7.8,7.2,6.5,5.9,10.4,9.8,9.1, 8.5,7.8,12.2,11.6,10.9,10.3,9.6,9.0, 13.5,12.9,12.2,11.6,10.9,10.3,15.0,14.4, 13.7,13.1,12.4,11.8,16.2,15.6,14.9,14.3, 13.6,13.0,16.8,16.2,15.5,14.9,15.0,14.5, 13.9,13.2,12.6,11.9,11.3,10.6,10.0,9.8, 9.3,12.5,11.9,11.2,10.6,9.9,9.3,12.8, 12.2,11.5,10.9,10.2,9.6,13.4,12.8,12.1, 11.5,10.8,10.2,14.6,14.0,13.3,12.7,14.2];
const b41 = [0.6,3.2,2.5,1.9,1.2,0.6,4.4,3.8, 3.1,2.5,1.8,6.1,5.5,4.8,4.2,3.5, 7.3,6.7,6.0,5.4,4.7,9.0,8.4,7.7, 7.1,6.4,5.8,10.5,9.9,9.2,8.6,7.9, 12.1,11.5,10.8,10.2,9.5,8.9,13.6,13.0, 12.3,11.7,11.0,10.4,15.2,14.6,13.9,13.3, 12.6,12.0,11.3,16.5,15.9,15.2,14.6,13.9, 13.3,12.6,12.0,17.8,17.2,16.5,15.9,17.0, 18.5,17.9,17.2,16.6,15.9,15.3,14.6,14.0, 13.3,12.7,12.0,11.4,10.7,10.1,9.4,8.8, 12.9,12.3,11.6,11.0,10.3,9.7,9.0,13.2, 12.6,11.9,11.3,10.6,10.0,14.1,13.5,12.8];
const b42 = [-0.4,2.4,1.8,1.1,0.5,3.7,3.1,2.4, 1.8,5.5,4.9,4.2,3.6,2.9,6.8,6.2, 5.5,4.9,4.2,9.3,8.7,8.0,7.4,6.7, 6.1,11.2,10.6,9.9,9.3,8.6,8.0,12.1, 11.5,10.8,10.2,9.5,14.3,13.7,13.0,12.4, 11.7,11.1,16.0,15.4,14.7,14.1,13.4,12.8, 17.2,16.6,15.9,15.3,14.6,14.0,13.3,12.7, 12.0,11.4,10.7,10.1,14.5,13.9,13.2,12.6, 11.9,11.3,10.6,10.0,9.3,8.7,8.0,12.4, 11.8,11.1,10.5,9.8,9.2,8.5,7.9,7.2, 6.6,5.9,9.8,9.2,8.5,7.9,7.2,6.6, 5.9,5.3,4.6,8.9,8.3,7.6,7.0,6.3];
const b43 = [2.9,2.3,1.6,1.0,4.6,4.0,3.3,2.7, 6.9,6.3,5.6,5.0,4.3,3.7,8.2,7.6, 6.9,6.3,5.6,5.0,4.3,10.0,9.4,8.7, 8.1,7.4,6.8,6.1,11.3,10.7,10.0,9.4, 8.7,8.1,7.4,12.6,12.0,11.3,10.7,10.0, 9.4,8.7,8.1,13.7,13.1,12.4,11.8,11.1, 10.5,9.8,9.2,8.5,7.9,11.5,10.9,10.2, 9.6,8.9,8.3,7.6,7.0,6.3,10.8,10.2, 9.5,8.9,8.2,7.6,6.9,6.3,5.6,5.0, 9.2,8.6,7.9,7.3,6.6,6.0,5.3,4.7, 8.4,7.8,7.1,6.5,5.8,5.2,10.6,10.0, 9.3,8.7,8.0,12.8,12.2,11.5,15.6,14.5];
const zeroLine = [0,0,0,0,0,0,0,0, 0,0,0,0,0,0,0,0, 0,0,0,0,0,0,0,0, 0,0,0,0,0,0,0,0, 0,0,0,0,0,0,0,0, 0,0,0,0,0,0,0,0, 0,0,0,0,0,0,0,0, 0,0,0,0,0,0,0,0, 0,0,0,0,0,0,0,0, 0,0,0,0,0,0,0,0, 0,0,0,0,0,0,0,0, 0,0,0,0,0,0,0,0];

const seriesList = [
  [b1,C_BLU],[b2,C_MAG],[b3,C_RED],[b4,C_SLB],[b5,C_CYN],[b6,C_GRN],[b7,C_GRN],[b8,C_BLU],
  [b9,C_RED],[b10,C_DRED],[b11,C_GRN],[b12,C_MAG],[b13,C_CYN],[b14,C_BLU],[b15,C_YEL],[b16,C_BLK],
  [b17,C_RED],[b18,C_SLB],[b19,C_MAG],[b20,C_CYN],[b21,C_GRN],[b22,C_RED],[b23,C_BLU],[b24,C_YEL],
  [b25,C_DRED],[b26,C_MAG],[b27,C_GRN],[b28,C_BLU],[b29,C_BLK],[b30,C_RED],[b31,C_MAG],
  [b32,C_BLU],[b33,C_RED],[b34,C_SLB],[b35,C_MAG],[b36,C_CYN],[b37,C_YEL],[b38,C_DRED],[b39,C_GRN],
  [b40,C_RED],[b41,C_SLB],[b42,C_CYN],[b43,C_MAG],
  [cyanLate,C_CYN],[blackLow,C_BLK],[yellowLow,C_YEL],[cyanLow,C_CYN],[blueLow,C_BLU],
  [darkRedEarly,C_DRED],[redHigh,C_RED],[darkRedHigh,C_DRED],[topBlue,C_BLU],[zeroLine,C_DRED]
];

const FONT = 'DejaVu Sans Mono';
const txt = {fontFamily: FONT, fontSize: 11, color: '#000'};
const chart = echarts.init(document.getElementById('c'), null, {renderer: 'canvas'});
const axisLine = {show: true, onZero: false, lineStyle: {color: '#000', width: 1}};
const axisTick = {show: true, inside: true, length: 5, lineStyle: {color: '#000', width: 1}};
chart.setOption({
  animation: false,
  backgroundColor: '#fff',
  title: {text: 'Cumulative Z-Squared Value', left: 336, top: 4, textAlign: 'center',
          textStyle: {fontFamily: FONT, fontSize: 11, fontWeight: 'normal', color: '#000'}},
  grid: {left: 51, right: 20, top: 32, bottom: 34, show: false, containLabel: false, outerBoundsMode: 'none'},
  xAxis: [
    {type: 'value', min: 0, max: 23.75, interval: 1, position: 'bottom',
     axisLine, axisTick, splitLine: {show: false},
     axisLabel: Object.assign({margin: 7, formatter: v => Number.isInteger(v) && v < 24 ? xTickLabels[v] : ''}, txt),
     name: 'Hour of Day', nameLocation: 'middle', nameGap: 21, nameTextStyle: txt},
    {type: 'value', min: 0, max: 23.75, interval: 1, position: 'top',
     axisLine, axisTick, splitLine: {show: false}, axisLabel: {show: false}}
  ],
  yAxis: [
    {type: 'value', min: -30, max: 50, interval: 10, position: 'left',
     axisLine, axisTick, splitLine: {show: false},
     axisLabel: Object.assign({margin: 5, formatter: v => yTickLabels[(v + 30) / 10]}, txt),
     name: 'Cumulative (Z*Z)-1', nameLocation: 'middle', nameGap: 34, nameRotate: 90, nameTextStyle: txt},
    {type: 'value', min: -30, max: 50, interval: 10, position: 'right',
     axisLine, axisTick, splitLine: {show: false}, axisLabel: {show: false}}
  ],
  series: seriesList.map(([vals, color]) => ({
    type: 'line', xAxisIndex: 0, yAxisIndex: 0, symbol: 'none', silent: true,
    lineStyle: {width: 1, color: color}, itemStyle: {color: color},
    data: hours.map((h, i) => [h, vals[i]])
  }))
});
</script></body></html>
